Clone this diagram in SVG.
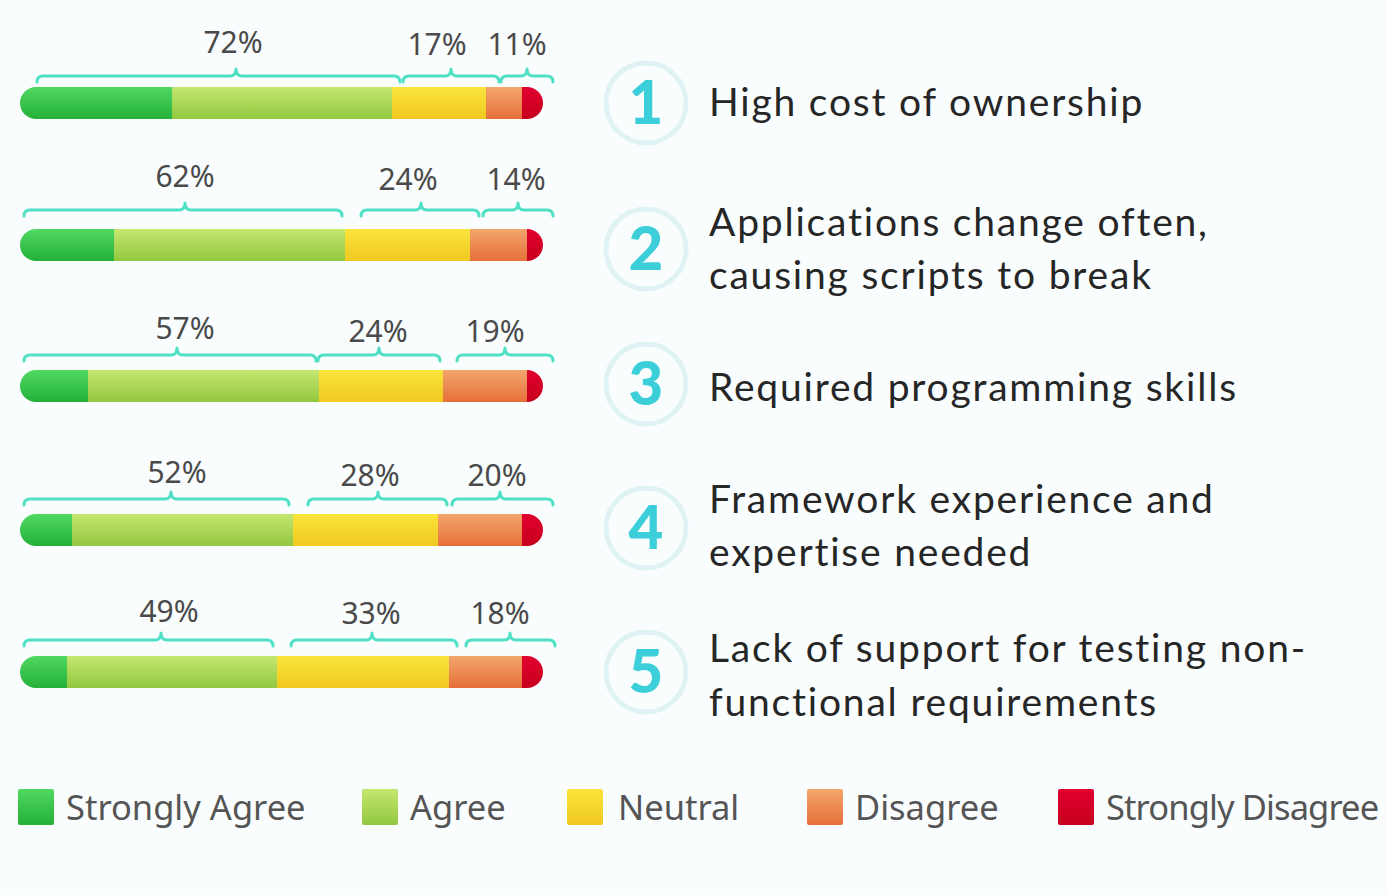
<svg xmlns="http://www.w3.org/2000/svg" width="1386" height="895" viewBox="0 0 1386 895">
<defs>
<linearGradient id="gSA" x1="0" y1="0" x2="0" y2="1"><stop offset="0" stop-color="#4fd862"/><stop offset="1" stop-color="#24b03a"/></linearGradient>
<linearGradient id="gA" x1="0" y1="0" x2="0" y2="1"><stop offset="0" stop-color="#c4e670"/><stop offset="1" stop-color="#92c83f"/></linearGradient>
<linearGradient id="gN" x1="0" y1="0" x2="0" y2="1"><stop offset="0" stop-color="#fae53c"/><stop offset="1" stop-color="#f0c820"/></linearGradient>
<linearGradient id="gD" x1="0" y1="0" x2="0" y2="1"><stop offset="0" stop-color="#f3a66d"/><stop offset="1" stop-color="#e66f39"/></linearGradient>
<linearGradient id="gSD" x1="0" y1="0" x2="0" y2="1"><stop offset="0" stop-color="#e2002f"/><stop offset="1" stop-color="#c6001d"/></linearGradient>
<clipPath id="c1"><rect x="20" y="87" width="523" height="32" rx="16"/></clipPath>
<clipPath id="c2"><rect x="20" y="229" width="523" height="32" rx="16"/></clipPath>
<clipPath id="c3"><rect x="20" y="370" width="523" height="32" rx="16"/></clipPath>
<clipPath id="c4"><rect x="20" y="514" width="523" height="32" rx="16"/></clipPath>
<clipPath id="c5"><rect x="20" y="656" width="523" height="32" rx="16"/></clipPath>
</defs>
<style>
.pct{font-family:"Noto Sans","Open Sans",sans-serif;font-size:30px;fill:#4a4a4a;text-anchor:middle}
.brace{fill:none;stroke:#4fe0c6;stroke-width:3;stroke-linecap:round;stroke-linejoin:round}
.ring{fill:none;stroke:#dff3f5;stroke-width:5}
.num{font-family:Lato,"Open Sans",sans-serif;font-weight:900;font-size:60px;fill:#3ccfd9;text-anchor:middle}
.lbl{font-family:Lato,"Open Sans",sans-serif;font-size:39px;letter-spacing:1.8px;fill:#262626}
.leg{font-family:"Noto Sans","Open Sans",sans-serif;font-size:34.5px;fill:#555555}
</style>
<rect width="1386" height="895" fill="#f9fdfe"/>

<g id="bar1">
<g clip-path="url(#c1)">
<rect x="20" y="87" width="152" height="32" fill="url(#gSA)"/>
<rect x="172" y="87" width="220" height="32" fill="url(#gA)"/>
<rect x="392" y="87" width="94" height="32" fill="url(#gN)"/>
<rect x="486" y="87" width="36" height="32" fill="url(#gD)"/>
<rect x="522" y="87" width="21" height="32" fill="url(#gSD)"/>
</g>
<path class="brace" d="M37,82 q0,-6 6,-6 H230 q6,0 6,-7 q0,7 6,7 H394 q6,0 6,6"/>
<path class="brace" d="M403,82 q0,-6 6,-6 H445 q6,0 6,-7 q0,7 6,7 H493 q6,0 6,6"/>
<path class="brace" d="M501,82 q0,-6 6,-6 H521 q6,0 6,-7 q0,7 6,7 H547 q6,0 6,6"/>
<text class="pct" x="233" y="53">72%</text>
<text class="pct" x="437" y="55">17%</text>
<text class="pct" x="517" y="55">11%</text>
</g>

<g id="bar2">
<g clip-path="url(#c2)">
<rect x="20" y="229" width="94" height="32" fill="url(#gSA)"/>
<rect x="114" y="229" width="231" height="32" fill="url(#gA)"/>
<rect x="345" y="229" width="125" height="32" fill="url(#gN)"/>
<rect x="470" y="229" width="57" height="32" fill="url(#gD)"/>
<rect x="527" y="229" width="16" height="32" fill="url(#gSD)"/>
</g>
<path class="brace" d="M24,216 q0,-6 6,-6 H179 q6,0 6,-7 q0,7 6,7 H336 q6,0 6,6"/>
<path class="brace" d="M361,216 q0,-6 6,-6 H415 q6,0 6,-7 q0,7 6,7 H473 q6,0 6,6"/>
<path class="brace" d="M483,216 q0,-6 6,-6 H512 q6,0 6,-7 q0,7 6,7 H547 q6,0 6,6"/>
<text class="pct" x="185" y="187">62%</text>
<text class="pct" x="408" y="190">24%</text>
<text class="pct" x="516" y="190">14%</text>
</g>

<g id="bar3">
<g clip-path="url(#c3)">
<rect x="20" y="370" width="68" height="32" fill="url(#gSA)"/>
<rect x="88" y="370" width="231" height="32" fill="url(#gA)"/>
<rect x="319" y="370" width="124" height="32" fill="url(#gN)"/>
<rect x="443" y="370" width="84" height="32" fill="url(#gD)"/>
<rect x="527" y="370" width="16" height="32" fill="url(#gSD)"/>
</g>
<path class="brace" d="M24,361 q0,-6 6,-6 H171 q6,0 6,-7 q0,7 6,7 H310 q6,0 6,6"/>
<path class="brace" d="M318,361 q0,-6 6,-6 H373 q6,0 6,-7 q0,7 6,7 H434 q6,0 6,6"/>
<path class="brace" d="M457,361 q0,-6 6,-6 H499 q6,0 6,-7 q0,7 6,7 H547 q6,0 6,6"/>
<text class="pct" x="185" y="339">57%</text>
<text class="pct" x="378" y="342">24%</text>
<text class="pct" x="495" y="342">19%</text>
</g>

<g id="bar4">
<g clip-path="url(#c4)">
<rect x="20" y="514" width="52" height="32" fill="url(#gSA)"/>
<rect x="72" y="514" width="221" height="32" fill="url(#gA)"/>
<rect x="293" y="514" width="145" height="32" fill="url(#gN)"/>
<rect x="438" y="514" width="84" height="32" fill="url(#gD)"/>
<rect x="522" y="514" width="21" height="32" fill="url(#gSD)"/>
</g>
<path class="brace" d="M24,505 q0,-6 6,-6 H165 q6,0 6,-7 q0,7 6,7 H283 q6,0 6,6"/>
<path class="brace" d="M308,505 q0,-6 6,-6 H372 q6,0 6,-7 q0,7 6,7 H441 q6,0 6,6"/>
<path class="brace" d="M452,505 q0,-6 6,-6 H494 q6,0 6,-7 q0,7 6,7 H547 q6,0 6,6"/>
<text class="pct" x="177" y="483">52%</text>
<text class="pct" x="370" y="486">28%</text>
<text class="pct" x="497" y="486">20%</text>
</g>

<g id="bar5">
<g clip-path="url(#c5)">
<rect x="20" y="656" width="47" height="32" fill="url(#gSA)"/>
<rect x="67" y="656" width="210" height="32" fill="url(#gA)"/>
<rect x="277" y="656" width="172" height="32" fill="url(#gN)"/>
<rect x="449" y="656" width="73" height="32" fill="url(#gD)"/>
<rect x="522" y="656" width="21" height="32" fill="url(#gSD)"/>
</g>
<path class="brace" d="M24,646 q0,-6 6,-6 H155 q6,0 6,-7 q0,7 6,7 H267 q6,0 6,6"/>
<path class="brace" d="M291,646 q0,-6 6,-6 H366 q6,0 6,-7 q0,7 6,7 H451 q6,0 6,6"/>
<path class="brace" d="M466,646 q0,-6 6,-6 H504 q6,0 6,-7 q0,7 6,7 H549 q6,0 6,6"/>
<text class="pct" x="169" y="622">49%</text>
<text class="pct" x="371" y="624">33%</text>
<text class="pct" x="500" y="624">18%</text>
</g>

<g id="item1">
<circle class="ring" cx="646" cy="103" r="40"/>
<text class="num" x="646" y="124">1</text>
<text class="lbl" x="709" y="116">High cost of ownership</text>
</g>
<g id="item2">
<circle class="ring" cx="646" cy="249" r="40"/>
<text class="num" x="646" y="270">2</text>
<text class="lbl" x="709" y="236">Applications change often,</text>
<text class="lbl" x="709" y="289">causing scripts to break</text>
</g>
<g id="item3">
<circle class="ring" cx="646" cy="384" r="40"/>
<text class="num" x="646" y="405">3</text>
<text class="lbl" x="709" y="401">Required programming skills</text>
</g>
<g id="item4">
<circle class="ring" cx="646" cy="528" r="40"/>
<text class="num" x="646" y="549">4</text>
<text class="lbl" x="709" y="513">Framework experience and</text>
<text class="lbl" x="709" y="566">expertise needed</text>
</g>
<g id="item5">
<circle class="ring" cx="646" cy="672" r="40"/>
<text class="num" x="646" y="693">5</text>
<text class="lbl" x="709" y="662">Lack of support for testing non-</text>
<text class="lbl" x="709" y="716">functional requirements</text>
</g>

<g id="legend">
<rect x="18" y="789" width="36" height="36" rx="2" fill="url(#gSA)"/>
<text class="leg" x="66" y="820">Strongly Agree</text>
<rect x="362" y="789" width="36" height="36" rx="2" fill="url(#gA)"/>
<text class="leg" x="410" y="820">Agree</text>
<rect x="567" y="789" width="36" height="36" rx="2" fill="url(#gN)"/>
<text class="leg" x="618" y="820">Neutral</text>
<rect x="807" y="789" width="36" height="36" rx="2" fill="url(#gD)"/>
<text class="leg" x="855" y="820">Disagree</text>
<rect x="1058" y="789" width="36" height="36" rx="2" fill="url(#gSD)"/>
<text class="leg" x="1106" y="820" letter-spacing="-0.9">Strongly Disagree</text>
</g>
</svg>
